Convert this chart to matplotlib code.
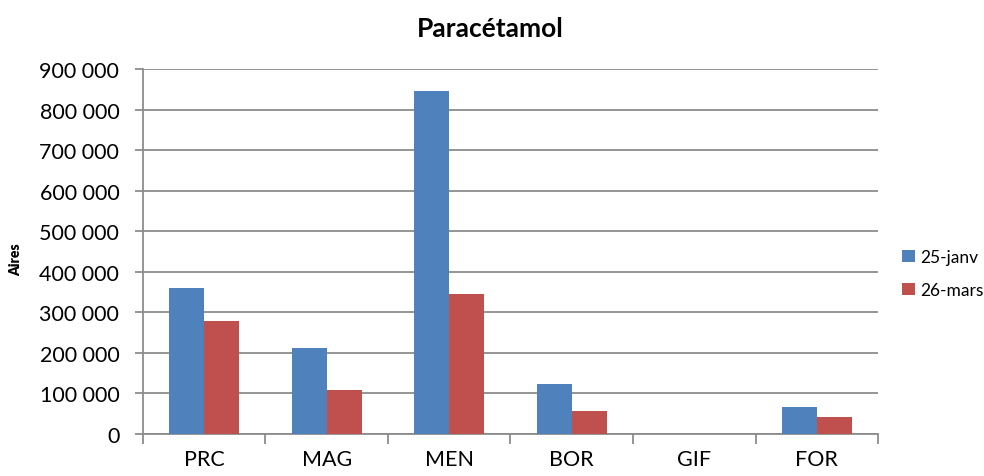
import matplotlib
matplotlib.use("Agg")
import matplotlib.pyplot as plt
import numpy as np
from matplotlib.ticker import FuncFormatter, FixedLocator

categories = ["PRC", "MAG", "MEN", "BOR", "GIF", "FOR"]
series_names = ["25-janv", "26-mars"]
janv_values = [360000, 212000, 846000, 123000, 0, 66000]
mars_values = [279000, 109000, 345000, 56000, 0, 42000]
colors = ["#4F81BD", "#C0504D"]

plt.rcParams["font.family"] = ["Lato", "DejaVu Sans"]

fig = plt.figure(figsize=(9.84, 4.77), dpi=100)
ax = fig.add_axes([0.1453, 0.088, 0.747, 0.765])

x = np.arange(len(categories))
width = 0.286
ax.bar(x - width / 2, janv_values, width, color=colors[0], label=series_names[0], zorder=3)
ax.bar(x + width / 2, mars_values, width, color=colors[1], label=series_names[1], zorder=3)

ax.set_xlim(-0.5, len(categories) - 0.5)
ax.set_ylim(0, 900000)
ax.set_yticks(np.arange(0, 900001, 100000))
ax.yaxis.set_major_formatter(FuncFormatter(lambda v, p: f"{int(v):,}".replace(",", " ")))
ax.grid(axis="y", color="#8c8c8c", linewidth=1.3, zorder=0)

ax.set_xticks(x)
ax.set_xticklabels(categories)
ax.xaxis.set_minor_locator(FixedLocator(np.arange(-0.5, len(categories), 1.0)))
ax.tick_params(axis="x", which="major", length=0, pad=11, labelsize=15.5)
ax.tick_params(axis="x", which="minor", length=7, width=1.3, color="#8c8c8c")
ax.tick_params(axis="y", length=6, width=1.3, color="#8c8c8c", labelsize=15.5, pad=11)

for side in ["top", "right"]:
    ax.spines[side].set_visible(False)
for side in ["left", "bottom"]:
    ax.spines[side].set_color("#8c8c8c")
    ax.spines[side].set_linewidth(1.3)

ax.set_ylabel("Aires", fontsize=10, fontweight="heavy", labelpad=9)
ax.yaxis.set_label_coords(-0.165, 0.48)
fig.suptitle("Paracétamol", x=0.498, y=0.965, fontsize=19, fontweight="bold")

ax.legend(loc="center left", bbox_to_anchor=(1.012, 0.44), frameon=False,
          fontsize=12.5, handlelength=0.7, handleheight=0.7, handletextpad=0.3,
          labelspacing=1.0)

fig.savefig("out.png", dpi=100, facecolor="white")
